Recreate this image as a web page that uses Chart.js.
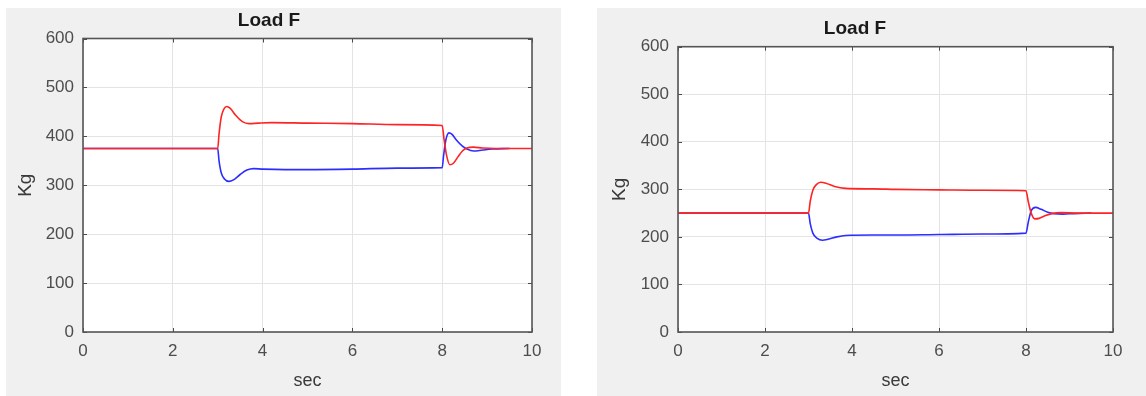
<!DOCTYPE html>
<html>
<head>
<meta charset="utf-8">
<script src="https://cdn.jsdelivr.net/npm/chart.js@4.4.1/dist/chart.umd.min.js"></script>
<style>
  body { margin: 0; background: #fff; width: 1146px; height: 396px; position: relative; overflow: hidden; }
  .panel { position: absolute; top: 8px; height: 388px; background: #f0f0f0; }
  #panelA { left: 6px; width: 555px; }
  #panelB { left: 597px; width: 549px; }
  canvas { display: block; }
</style>
</head>
<body>
<div class="panel" id="panelA"><canvas id="loadA" width="555" height="388"></canvas></div>
<div class="panel" id="panelB"><canvas id="loadB" width="549" height="388"></canvas></div>
<script>
// axis ticks
const secTicks = [0, 2, 4, 6, 8, 10];
const kgTicks = [0, 100, 200, 300, 400, 500, 600];

// run A: load split around 375 kg
const timeRedA = [0, 3, 3.03, 3.08, 3.14, 3.2, 3.28, 3.4, 3.55, 3.7, 3.9, 4.2, 5, 6, 7, 8, 8.04, 8.1, 8.17, 8.25, 8.35, 8.45, 8.55, 8.7, 8.9, 9.2, 10];
const loadRedA = [375, 375, 405, 440, 456, 461, 457, 443, 430, 426, 427, 428, 427, 426, 424, 422, 395, 360, 342, 345, 358, 370, 376, 378, 376, 375, 375];
const timeBlueA = [0, 3, 3.03, 3.08, 3.15, 3.25, 3.35, 3.5, 3.65, 3.8, 4, 4.5, 5, 6, 7, 8, 8.03, 8.08, 8.15, 8.22, 8.32, 8.45, 8.55, 8.7, 8.9, 9.1, 9.5];
const loadBlueA = [375, 375, 350, 325, 313, 308, 311, 322, 331, 334, 333, 332, 332, 333, 335, 336, 360, 392, 407, 404, 392, 380, 374, 370, 372, 374, 375];

// run B: load split around 250 kg
const timeRedB = [0, 3, 3.04, 3.1, 3.18, 3.28, 3.4, 3.6, 3.85, 4.5, 5, 6, 7, 8, 8.05, 8.12, 8.2, 8.3, 8.45, 8.6, 8.8, 9.2, 10];
const loadRedB = [250, 250, 275, 298, 310, 315, 313, 306, 302, 301, 300, 299, 298, 297, 275, 250, 238, 239, 245, 249, 251, 250, 250];
const timeBlueB = [0, 3, 3.04, 3.1, 3.2, 3.32, 3.45, 3.65, 3.85, 4.5, 5, 6, 7, 8, 8.05, 8.12, 8.22, 8.35, 8.5, 8.65, 8.85, 9.1, 9.5];
const loadBlueB = [250, 250, 228, 208, 197, 193, 195, 200, 203, 204, 204, 205, 206, 208, 230, 255, 262, 258, 252, 249, 248, 249, 250];

const fontFamily = "'Liberation Sans', Arial, Helvetica, sans-serif";

const toPoints = (ts, vs) => ts.map((t, i) => ({ x: t, y: vs[i] }));

// white plot background, then box with inward tick marks on all four sides
const axesBox = {
  id: 'axesBox',
  beforeDraw(chart) {
    const { ctx, chartArea: a } = chart;
    ctx.save();
    ctx.fillStyle = '#fff';
    ctx.fillRect(a.left, a.top, a.right - a.left, a.bottom - a.top);
    ctx.restore();
  },
  afterDraw(chart) {
    const { ctx, chartArea: a, scales: { x, y } } = chart;
    ctx.save();
    ctx.strokeStyle = '#4a4a4a';
    ctx.lineWidth = 1;
    ctx.beginPath();
    secTicks.forEach(v => {
      const px = Math.round(x.getPixelForValue(v)) + 0.5;
      ctx.moveTo(px, a.bottom); ctx.lineTo(px, a.bottom - 4);
      ctx.moveTo(px, a.top); ctx.lineTo(px, a.top + 4);
    });
    kgTicks.forEach(v => {
      const py = Math.round(y.getPixelForValue(v)) + 0.5;
      ctx.moveTo(a.left, py); ctx.lineTo(a.left + 4, py);
      ctx.moveTo(a.right, py); ctx.lineTo(a.right - 4, py);
    });
    ctx.stroke();
    ctx.lineWidth = 1.6;
    ctx.strokeStyle = '#555';
    ctx.strokeRect(a.left, a.top, a.right - a.left, a.bottom - a.top);
    ctx.restore();
  }
};

const makeChart = (id, box, red, blue) => new Chart(document.getElementById(id), {
  type: 'line',
  data: {
    datasets: [{
      label: 'F1',
      data: red,
      borderColor: 'rgb(255, 35, 35)',
      borderWidth: 1.6,
      pointRadius: 0,
      cubicInterpolationMode: 'monotone'
    }, {
      label: 'F2',
      data: blue,
      borderColor: 'rgb(45, 45, 255)',
      borderWidth: 1.6,
      pointRadius: 0,
      cubicInterpolationMode: 'monotone'
    }]
  },
  options: {
    responsive: false,
    animation: false,
    events: [],
    layout: { padding: { left: 0, right: box.width - box.right, top: 0, bottom: 0 } },
    plugins: {
      legend: { display: false },
      tooltip: { enabled: false },
      title: {
        display: true,
        text: 'Load F',
        color: '#1a1a1a',
        font: { family: fontFamily, size: 19, weight: 'bold', lineHeight: 1.2 },
        padding: { top: box.titleTop, bottom: box.top - box.titleTop - 22.8 }
      }
    },
    scales: {
      x: {
        type: 'linear',
        min: 0,
        max: 10,
        afterBuildTicks: s => { s.ticks = secTicks.map(v => ({ value: v })); },
        afterFit: s => { s.height = box.height - box.bottom; },
        ticks: { color: '#4d4d4d', padding: 9, font: { family: fontFamily, size: 17 } },
        grid: { color: '#e4e4e4', lineWidth: 1, drawTicks: false },
        border: { display: false },
        title: {
          display: true,
          text: 'sec',
          color: '#3a3a3a',
          font: { family: fontFamily, size: 18, lineHeight: 1.2 },
          padding: { top: 0, bottom: 4 }
        }
      },
      y: {
        min: 0,
        max: 600,
        afterBuildTicks: s => { s.ticks = kgTicks.map(v => ({ value: v })); },
        afterFit: s => { s.width = box.left; },
        ticks: { color: '#4d4d4d', padding: 9, font: { family: fontFamily, size: 17 } },
        grid: { color: '#e4e4e4', lineWidth: 1, drawTicks: false },
        border: { display: false },
        title: {
          display: true,
          text: 'Kg',
          color: '#3a3a3a',
          font: { family: fontFamily, size: 19, lineHeight: 1.2 },
          padding: { top: box.kgCenter - 11.4, bottom: 0 }
        }
      }
    }
  },
  plugins: [axesBox]
});

makeChart('loadA', { width: 555, height: 388, left: 77, top: 30.5, right: 526, bottom: 324, titleTop: 1.6, kgCenter: 20 },
  toPoints(timeRedA, loadRedA), toPoints(timeBlueA, loadBlueA));
makeChart('loadB', { width: 549, height: 388, left: 81, top: 38.7, right: 516, bottom: 324, titleTop: 9.6, kgCenter: 22.5 },
  toPoints(timeRedB, loadRedB), toPoints(timeBlueB, loadBlueB));
</script>
</body>
</html>
